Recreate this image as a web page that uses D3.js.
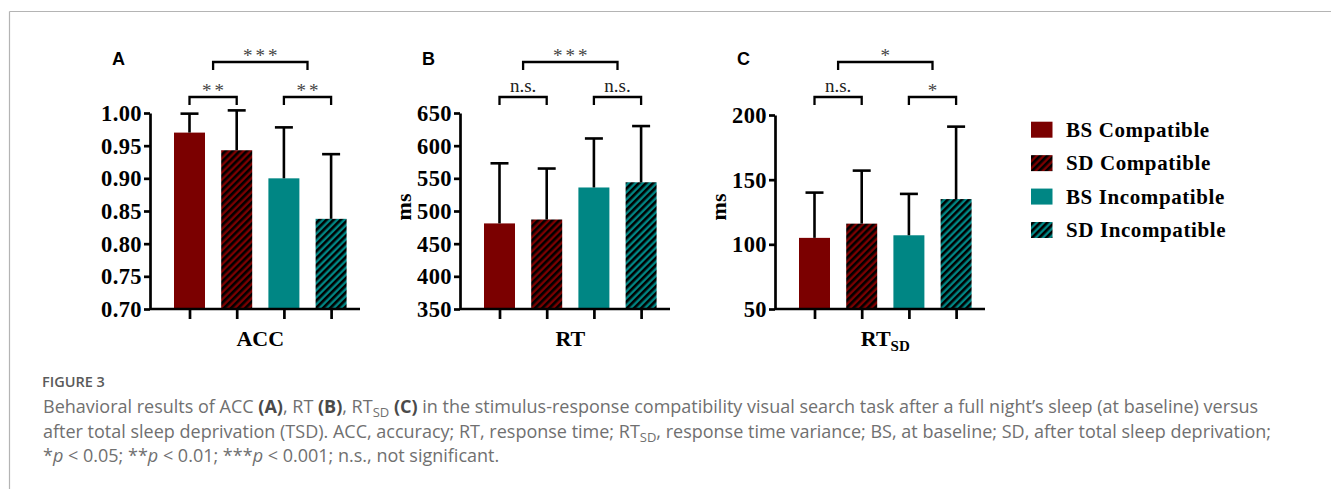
<!DOCTYPE html>
<html>
<head>
<meta charset="utf-8">
<script src="https://cdn.jsdelivr.net/npm/d3@7"></script>
<style>
	body { margin: 0; background: #fff; }
	svg { display: block; }
</style>
</head>
<body>
<div id="chart"></div>
<script>
"use strict";

// data
const groups = ["BS Compatible", "SD Compatible", "BS Incompatible", "SD Incompatible"];
const hatched = [false, true, false, true];
const groupColors = ["#7b0000", "#7b0000", "#008684", "#008684"];

const accMean = [0.970, 0.943, 0.900, 0.838];
const accSD = [0.029, 0.061, 0.078, 0.099];
const accTicks = [0.70, 0.75, 0.80, 0.85, 0.90, 0.95, 1.00];

const rtMean = [481, 487, 536, 544];
const rtSD = [92, 78, 75, 86];
const rtTicks = [350, 400, 450, 500, 550, 600, 650];

const rtsdMean = [105, 116, 107, 135];
const rtsdSD = [35, 41, 32, 56];
const rtsdTicks = [50, 100, 150, 200];

// significance: [pair 1-2, pair 3-4, compat vs incompat]
const accSig = ["**", "**", "***"];
const rtSig = ["n.s.", "n.s.", "***"];
const rtsdSig = ["n.s.", "*", "*"];

const W = 1331, H = 489;
const serif = "'Liberation Serif', 'Times New Roman', serif";
const sans = "'Liberation Sans', Arial, sans-serif";

const svg = d3.select("#chart").append("svg")
	.attr("width", W)
	.attr("height", H);

// hatch patterns
const defs = svg.append("defs");
["red", "teal"].forEach((name, i) => {
	const p = defs.append("pattern")
		.attr("id", "hatch-" + name)
		.attr("patternUnits", "userSpaceOnUse")
		.attr("width", 5)
		.attr("height", 5)
		.attr("patternTransform", "rotate(45)");
	p.append("rect").attr("width", 5).attr("height", 5)
		.attr("fill", groupColors[i * 2]);
	p.append("rect").attr("width", 2.6).attr("height", 5).attr("fill", "#000");
});
const fillFor = (i) => hatched[i] ? (i < 2 ? "url(#hatch-red)" : "url(#hatch-teal)") : groupColors[i];

// frame lines
svg.append("line").attr("x1", 9.5).attr("x2", W).attr("y1", 11.5).attr("y2", 11.5)
	.attr("stroke", "#b4b4b4").attr("stroke-width", 1.2);
svg.append("line").attr("x1", 9.5).attr("x2", 9.5).attr("y1", 11.5).attr("y2", H)
	.attr("stroke", "#b4b4b4").attr("stroke-width", 1.2);

const panels = [
	{ letter: "A", ax: 150, top: 113, mean: accMean, sd: accSD, ticks: accTicks, fmt: d3.format(".2f"), title: "ACC", sub: null, ylab: null, sig: accSig },
	{ letter: "B", ax: 460, top: 113, mean: rtMean, sd: rtSD, ticks: rtTicks, fmt: d3.format("d"), title: "RT", sub: null, ylab: "ms", sig: rtSig },
	{ letter: "C", ax: 775, top: 115, mean: rtsdMean, sd: rtsdSD, ticks: rtsdTicks, fmt: d3.format("d"), title: "RT", sub: "SD", ylab: "ms", sig: rtsdSig },
];

const bottom = 309;
const barW = 31;

panels.forEach((pn) => {
	const g = svg.append("g").attr("class", "panel");

	const y = d3.scaleLinear()
		.domain([pn.ticks[0], pn.ticks[pn.ticks.length - 1]])
		.range([bottom, pn.top]);
	const x = d3.scalePoint()
		.domain(d3.range(groups.length))
		.range([pn.ax + 39.5, pn.ax + 39.5 + 3 * 47.2]);

	// bars
	g.selectAll(".bar")
		.data(pn.mean)
		.enter()
		.append("rect")
		.attr("class", "bar")
		.attr("x", (d, i) => x(i) - barW / 2)
		.attr("y", (d) => y(d))
		.attr("width", barW)
		.attr("height", (d) => bottom - y(d))
		.attr("fill", (d, i) => fillFor(i));

	// error bars (upper only)
	const err = g.selectAll(".err")
		.data(pn.mean)
		.enter()
		.append("g")
		.attr("class", "err")
		.attr("stroke", "#000")
		.attr("stroke-width", 2.6);
	err.append("line")
		.attr("x1", (d, i) => x(i)).attr("x2", (d, i) => x(i))
		.attr("y1", (d) => y(d))
		.attr("y2", (d, i) => y(d + pn.sd[i]));
	err.append("line")
		.attr("x1", (d, i) => x(i) - 9).attr("x2", (d, i) => x(i) + 9)
		.attr("y1", (d, i) => y(d + pn.sd[i]))
		.attr("y2", (d, i) => y(d + pn.sd[i]));

	// y axis
	const yAxis = g.append("g")
		.attr("transform", `translate(${pn.ax},0)`)
		.call(d3.axisLeft(y).tickValues(pn.ticks).tickFormat(pn.fmt).tickSize(6).tickPadding(2).tickSizeOuter(0));
	yAxis.select(".domain").attr("stroke-width", 2.7);
	yAxis.selectAll(".tick line").attr("stroke-width", 2.7);
	yAxis.selectAll(".tick text")
		.attr("font-family", serif)
		.attr("font-weight", "bold")
		.attr("font-size", 22.5)
		.attr("letter-spacing", 0.4)
		.attr("dy", "0.34em")
		.attr("fill", "#000");

	// x axis
	const xAxis = g.append("g")
		.attr("transform", `translate(0,${bottom})`)
		.call(d3.axisBottom(x).tickSize(10).tickFormat("").tickSizeOuter(0));
	xAxis.select(".domain")
		.attr("d", `M${pn.ax},0H${pn.ax + 210}`)
		.attr("stroke-width", 2.7);
	xAxis.selectAll(".tick line").attr("stroke-width", 2.7);

	// panel letter
	g.append("text")
		.attr("x", pn.ax - 38)
		.attr("y", 65)
		.attr("font-family", sans)
		.attr("font-weight", "bold")
		.attr("font-size", 18)
		.text(pn.letter);

	// x title
	const cx = (x(0) + x(3)) / 2;
	const t = g.append("text")
		.attr("x", cx)
		.attr("y", 346)
		.attr("text-anchor", "middle")
		.attr("font-family", serif)
		.attr("font-weight", "bold")
		.attr("font-size", 22)
		.text(pn.title);
	if (pn.sub) {
		t.append("tspan")
			.attr("font-size", 15)
			.attr("dy", 5)
			.text(pn.sub);
	}

	// y title
	if (pn.ylab) {
		g.append("text")
			.attr("transform", `translate(${pn.ax - 57},${207}) rotate(-90)`)
			.attr("text-anchor", "middle")
			.attr("dy", "0.35em")
			.attr("font-family", serif)
			.attr("font-weight", "bold")
			.attr("font-size", 22)
			.text(pn.ylab);
	}

	// significance brackets
	const brackets = [
		{ x1: x(0), x2: x(1), yb: 97, label: pn.sig[0] },
		{ x1: x(2), x2: x(3), yb: 97, label: pn.sig[1] },
		{ x1: (x(0) + x(1)) / 2, x2: (x(2) + x(3)) / 2, yb: 62, label: pn.sig[2] },
	];
	brackets.forEach((b) => {
		g.append("path")
			.attr("d", `M${b.x1},${b.yb + 8}V${b.yb}H${b.x2}V${b.yb + 8}`)
			.attr("fill", "none")
			.attr("stroke", "#000")
			.attr("stroke-width", 2.3);
		const isStar = b.label.indexOf("*") === 0;
		g.append("text")
			.attr("x", (b.x1 + b.x2) / 2 + (isStar ? 1.5 : 0))
			.attr("y", isStar ? b.yb : b.yb - 5)
			.attr("text-anchor", "middle")
			.attr("font-family", serif)
			.attr("font-size", isStar ? 19 : 19)
			.attr("letter-spacing", isStar ? 3 : 0)
			.attr("fill", isStar ? "#444" : "#222")
			.text(b.label);
	});
});

// legend
const legend = svg.append("g").attr("transform", "translate(1031,0)");
const rowY = d3.scalePoint().domain(d3.range(groups.length)).range([129.7, 230]);
const item = legend.selectAll(".item")
	.data(groups)
	.enter()
	.append("g")
	.attr("class", "item")
	.attr("transform", (d, i) => `translate(0,${rowY(i)})`);
item.append("rect")
	.attr("x", 0).attr("y", -8)
	.attr("width", 21.5).attr("height", 16)
	.attr("fill", (d, i) => fillFor(i));
item.append("text")
	.attr("x", 35)
	.attr("y", 7)
	.attr("font-family", serif)
	.attr("font-weight", "bold")
	.attr("font-size", 21)
	.attr("letter-spacing", 0.6)
	.text((d) => d);

// caption
const capFont = "'Open Sans', 'Noto Sans', sans-serif";
svg.append("text")
	.attr("x", 42)
	.attr("y", 387)
	.attr("font-family", capFont)
	.attr("font-weight", 600)
	.attr("font-size", 14.5)
	.attr("fill", "#5a5a5a")
	.text("FIGURE 3");

const capLines = [
	[["Behavioral results of ACC ", 0], ["(A)", 1], [", RT ", 0], ["(B)", 1], [", RT", 0], ["SD", 2], [" ", 0], ["(C)", 1], [" in the stimulus-response compatibility visual search task after a full night\u2019s sleep (at baseline) versus", 0]],
	[["after total sleep deprivation (TSD). ACC, accuracy; RT, response time; RT", 0], ["SD", 2], [", response time variance; BS, at baseline; SD, after total sleep deprivation;", 0]],
	[["*", 0], ["p", 3], [" < 0.05; **", 0], ["p", 3], [" < 0.01; ***", 0], ["p", 3], [" < 0.001; n.s., not significant.", 0]],
];
const capY = [413, 438, 462];
capLines.forEach((line, li) => {
	const t = svg.append("text")
		.attr("x", 43)
		.attr("y", capY[li])
		.attr("font-family", capFont)
		.attr("font-size", 18)
		.attr("fill", "#707070");
	line.forEach(([str, kind]) => {
		const s = t.append("tspan").text(str);
		if (kind === 1) s.attr("font-weight", 700).attr("fill", "#4a4a4a");
		if (kind === 2) s.attr("font-size", 13).attr("dy", 4).attr("class", "sub");
		if (kind === 3) s.attr("font-style", "italic");
	});
	// reset baseline after a subscript
	t.selectAll("tspan").each(function (d, i, nodes) {
		const prev = i > 0 ? d3.select(nodes[i - 1]) : null;
		if (prev && prev.classed("sub")) d3.select(this).attr("dy", -4);
	});
});
</script>
</body>
</html>
